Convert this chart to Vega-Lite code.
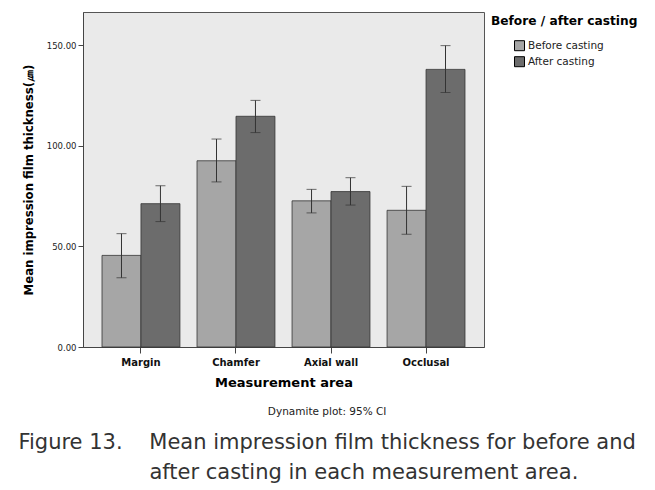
{
  "$schema": "https://vega.github.io/schema/vega-lite/v6.json",
  "width": 401,
  "height": 335,
  "padding": {"left": 18, "top": 12, "right": 5, "bottom": 5},
  "background": "white",
  "config": {
    "font": "DejaVu Sans",
    "view": {"fill": "#eaeaea", "stroke": "#555555", "strokeWidth": 1},
    "axis": {"grid": false, "domainColor": "#444444", "tickColor": "#444444", "labelColor": "#222222", "titleColor": "#000000"}
  },
  "title": {
    "text": "Dynamite plot: 95% CI",
    "subtitle": [
      "Figure 13.\u00a0\u00a0\u00a0\u00a0Mean impression film thickness for before and",
      "\u200b\u00a0\u00a0\u00a0\u00a0\u00a0\u00a0\u00a0\u00a0\u00a0\u00a0\u00a0after casting in each measurement area."
    ],
    "orient": "bottom",
    "anchor": "middle",
    "frame": "bounds",
    "dx": -5,
    "fontSize": 10.5,
    "fontWeight": "normal",
    "color": "#222222",
    "subtitleFont": "DejaVu Sans",
    "subtitleFontSize": 21,
    "subtitleColor": "#333333",
    "subtitleLineHeight": 30.5,
    "subtitlePadding": 14,
    "offset": 18
  },
  "data": {
    "values": [
      {"area": "Margin", "group": "Before casting", "mean": 45.5, "lo": 34.4, "hi": 56.3},
      {"area": "Margin", "group": "After casting", "mean": 71.2, "lo": 62.3, "hi": 80.1},
      {"area": "Chamfer", "group": "Before casting", "mean": 92.5, "lo": 82.0, "hi": 103.3},
      {"area": "Chamfer", "group": "After casting", "mean": 114.6, "lo": 106.5, "hi": 122.5},
      {"area": "Axial wall", "group": "Before casting", "mean": 72.6, "lo": 66.6, "hi": 78.3},
      {"area": "Axial wall", "group": "After casting", "mean": 77.2, "lo": 70.5, "hi": 84.1},
      {"area": "Occlusal", "group": "Before casting", "mean": 67.9, "lo": 56.0, "hi": 79.8},
      {"area": "Occlusal", "group": "After casting", "mean": 137.9, "lo": 126.4, "hi": 149.7}
    ]
  },
  "encoding": {
    "x": {
      "field": "area",
      "type": "nominal",
      "sort": ["Margin", "Chamfer", "Axial wall", "Occlusal"],
      "scale": {"paddingInner": 0.18, "paddingOuter": 0.2},
      "axis": {
        "title": "Measurement area",
        "labelAngle": 0,
        "labelFontSize": 10,
        "labelFontWeight": "bold",
        "labelColor": "#111111",
        "labelPadding": 4,
        "tickSize": 6,
        "titleFontSize": 13,
        "titleFontWeight": "bold",
        "titlePadding": 9
      }
    },
    "xOffset": {
      "field": "group",
      "type": "nominal",
      "sort": ["Before casting", "After casting"],
      "scale": {"paddingInner": 0, "paddingOuter": 0}
    }
  },
  "layer": [
    {
      "mark": {"type": "bar", "stroke": "#333333", "strokeWidth": 0.8},
      "encoding": {
        "y": {
          "field": "mean",
          "type": "quantitative",
          "scale": {"domain": [0, 166.4], "nice": false},
          "axis": {
            "title": "Mean impression film thickness(㎛)",
            "values": [0, 50, 100, 150],
            "format": ".2f",
            "labelFontSize": 8.5,
            "tickSize": 5,
            "labelPadding": 2,
            "titleFontSize": 11.7,
            "titleFontWeight": "bold",
            "titlePadding": 12
          }
        },
        "fill": {
          "field": "group",
          "type": "nominal",
          "sort": ["Before casting", "After casting"],
          "scale": {"domain": ["Before casting", "After casting"], "range": ["#a6a6a6", "#6c6c6c"]},
          "legend": {
            "title": "Before / after casting",
            "orient": "right",
            "offset": 4,
            "padding": 3,
            "titleFontSize": 12.2,
            "titleFontWeight": "bold",
            "titleColor": "#000000",
            "titlePadding": 13,
            "labelFontSize": 10.5,
            "labelColor": "#222222",
            "symbolType": "square",
            "symbolSize": 100,
            "symbolStrokeColor": "#000000",
            "symbolStrokeWidth": 1,
            "symbolOffset": 23,
            "rowPadding": 1,
            "labelOffset": 3
          }
        }
      }
    },
    {
      "mark": {"type": "rule", "color": "#333333", "strokeWidth": 1},
      "encoding": {
        "y": {"field": "lo", "type": "quantitative"},
        "y2": {"field": "hi"}
      }
    },
    {
      "mark": {"type": "tick", "color": "#333333", "size": 10, "thickness": 1},
      "encoding": {
        "y": {"field": "hi", "type": "quantitative"}
      }
    },
    {
      "mark": {"type": "tick", "color": "#333333", "size": 10, "thickness": 1},
      "encoding": {
        "y": {"field": "lo", "type": "quantitative"}
      }
    }
  ]
}
